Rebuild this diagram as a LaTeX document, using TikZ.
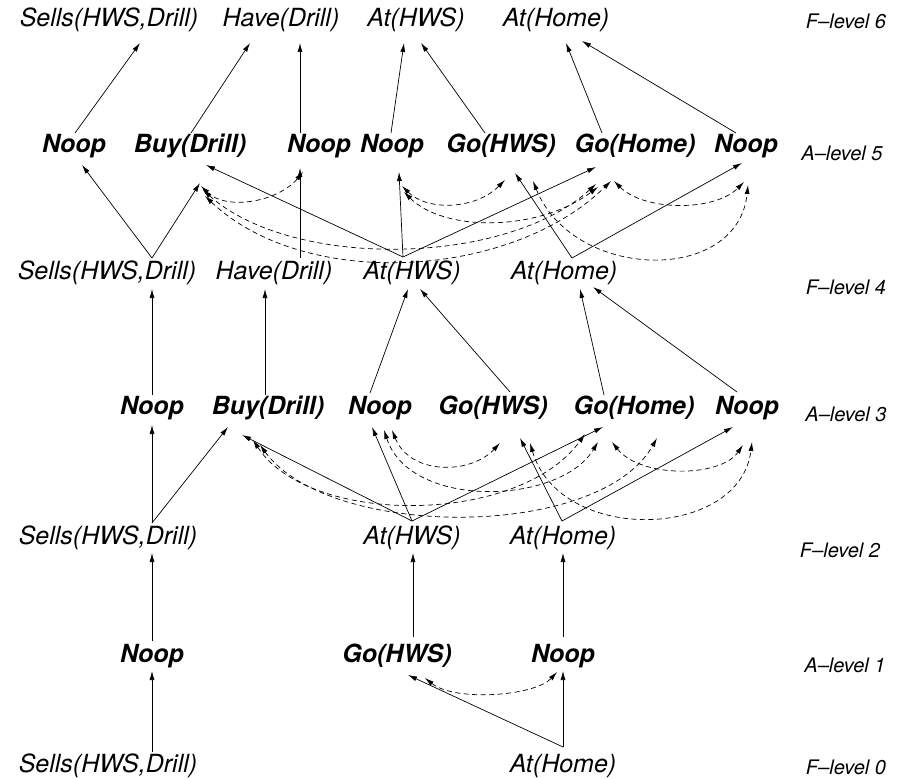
\documentclass[tikz,border=0pt]{standalone}
\usepackage{fontspec}
\setmainfont{TeX Gyre Heros}
\usetikzlibrary{arrows.meta}
\begin{document}
\begin{tikzpicture}[x=1bp,y=-1bp,
  fact/.style={font=\fontsize{25bp}{30bp}\selectfont\itshape, inner sep=0pt,
    text height=18bp, text depth=5.5bp},
  act/.style={font=\fontsize{25bp}{30bp}\selectfont\bfseries\itshape, inner sep=0pt,
    text height=18bp, text depth=5.5bp},
  lvl/.style={font=\fontsize{20bp}{24bp}\selectfont\itshape, inner sep=0pt},
  link/.style={line width=0.7bp, -{Latex[length=9bp,width=5bp]}},
  mutex/.style={line width=0.7bp, dash pattern=on 5bp off 3.5bp,
    {Latex[length=9bp,width=5bp]}-{Latex[length=9bp,width=5bp]}},
]
\useasboundingbox (0,0) rectangle (904,779);

% ---------- fact level 6 ----------
\node[fact] (f6s) at (109,20) {Sells(HWS,Drill)};
\node[fact] (f6h) at (281,20) {Have(Drill)};
\node[fact] (f6a) at (416,20) {At(HWS)};
\node[fact] (f6m) at (556,20) {At(Home)};
% ---------- action level 5 ----------
\node[act] (a5n1)  at (74,146)  {Noop};
\node[act] (a5buy) at (190,146) {Buy(Drill)};
\node[act] (a5nh)  at (319,146) {Noop};
\node[act] (a5na)  at (392,146) {Noop};
\node[act] (a5gh)  at (501,146) {Go(HWS)};
\node[act] (a5gm)  at (635,146) {Go(Home)};
\node[act] (a5nm)  at (746,146) {Noop};
% ---------- fact level 4 ----------
\node[fact] (f4s) at (107,273) {Sells(HWS,Drill)};
\node[fact] (f4h) at (274,273) {Have(Drill)};
\node[fact] (f4a) at (412,273) {At(HWS)};
\node[fact] (f4m) at (564,273) {At(Home)};
% ---------- action level 3 ----------
\node[act] (a3n1)  at (152,408) {Noop};
\node[act] (a3buy) at (268,408) {Buy(Drill)};
\node[act] (a3na)  at (380,408) {Noop};
\node[act] (a3gh)  at (493,408) {Go(HWS)};
\node[act] (a3gm)  at (634,408) {Go(Home)};
\node[act] (a3nm)  at (747,408) {Noop};
% ---------- fact level 2 ----------
\node[fact] (f2s) at (108,538) {Sells(HWS,Drill)};
\node[fact] (f2a) at (412,538) {At(HWS)};
\node[fact] (f2m) at (563,538) {At(Home)};
% ---------- action level 1 ----------
\node[act] (a1n1) at (152,656) {Noop};
\node[act] (a1gh) at (397,656) {Go(HWS)};
\node[act] (a1nm) at (563,656) {Noop};
% ---------- fact level 0 ----------
\node[fact] (f0s) at (108,766) {Sells(HWS,Drill)};
\node[fact] (f0m) at (563,766) {At(Home)};

% ---------- level captions ----------
\node[lvl] (lF6) at (846,21)  {F–level 6};
\node[lvl] (lA5) at (842,153) {A–level 5};
\node[lvl] (lF4) at (846,287) {F–level 4};
\node[lvl] (lA3) at (846,414) {A–level 3};
\node[lvl] (lF2) at (840,550) {F–level 2};
\node[lvl] (lA1) at (845,665) {A–level 1};
\node[lvl] (lF0) at (846,767) {F–level 0};

% ---------- A5 -> F6 ----------
\draw[link] ([shift={(1,-13)}]a5n1.center)   -- ([shift={(31,23)}]f6s.center);
\draw[link] ([shift={(1,-13)}]a5buy.center)  -- ([shift={(-31,23)}]f6h.center);
\draw[link] ([shift={(-19,-13)}]a5nh.center) -- ([shift={(19,23)}]f6h.center);
\draw[link] ([shift={(-1,-13)}]a5na.center)  -- ([shift={(-12,23)}]f6a.center);
\draw[link] ([shift={(-16,-13)}]a5gh.center) -- ([shift={(5,23)}]f6a.center);
\draw[link] ([shift={(-33,-13)}]a5gm.center) -- ([shift={(10,23)}]f6m.center);
\draw[link] ([shift={(-10,-13)}]a5nm.center) -- ([shift={(26,21)}]f6m.center);

% ---------- F4 -> A5 ----------
\draw[link] ([shift={(45,-15)}]f4s.center) -- ([shift={(8,19)}]a5n1.center);
\draw[link] ([shift={(45,-15)}]f4s.center) -- ([shift={(10,37)}]a5buy.center);
\draw[link] ([shift={(26,-15)}]f4h.center) -- ([shift={(-19,22)}]a5nh.center);
\draw[link] ([shift={(-9,-16)}]f4a.center) -- ([shift={(16,19)}]a5buy.center);
\draw[link] ([shift={(-9,-16)}]f4a.center) -- ([shift={(7,26)}]a5na.center);
\draw[link] ([shift={(-9,-16)}]f4a.center) -- ([shift={(-39,21)}]a5gm.center);
\draw[link] ([shift={(8,-15)}]f4m.center)  -- ([shift={(14,27)}]a5gh.center);
\draw[link] ([shift={(8,-15)}]f4m.center)  -- ([shift={(-4,17)}]a5nm.center);

% ---------- mutex links at A5 ----------
\draw[mutex] ([shift={(11,40)}]a5buy.center) .. controls +(25,25) and +(-25,30) .. ([shift={(-16,26)}]a5nh.center);
\draw[mutex] ([shift={(13,44)}]a5buy.center) .. controls +(90,80) and +(-90,82) .. ([shift={(-39,38)}]a5gm.center);
\draw[mutex] ([shift={(15,50)}]a5buy.center) .. controls +(100,95) and +(-100,98) .. ([shift={(-24,35)}]a5gm.center);
\draw[mutex] ([shift={(10,40)}]a5na.center) .. controls +(25,25) and +(-30,30) .. ([shift={(4,34)}]a5gh.center);
\draw[mutex] ([shift={(12,46)}]a5na.center) .. controls +(40,40) and +(-60,45) .. ([shift={(-37,41)}]a5gm.center);
\draw[mutex] ([shift={(32,35)}]a5gh.center) .. controls +(40,100) and +(-10,100) .. ([shift={(2,39)}]a5nm.center);
\draw[mutex] ([shift={(-21,35)}]a5gm.center) .. controls +(30,30) and +(-30,30) .. ([shift={(-2,36)}]a5nm.center);

% ---------- A3 -> F4 ----------
\draw[link] ([shift={(0,-13)}]a3n1.center)   -- ([shift={(45,16)}]f4s.center);
\draw[link] ([shift={(-3,-13)}]a3buy.center) -- ([shift={(-9,16)}]f4h.center);
\draw[link] ([shift={(-10,-15)}]a3na.center) -- ([shift={(-4,16)}]f4a.center);
\draw[link] ([shift={(17,-16)}]a3gh.center)  -- ([shift={(8,16)}]f4a.center);
\draw[link] ([shift={(-30,-13)}]a3gm.center) -- ([shift={(16,16)}]f4m.center);
\draw[link] ([shift={(-10,-16)}]a3nm.center) -- ([shift={(29,14)}]f4m.center);

% ---------- F2 -> A3 ----------
\draw[link] ([shift={(44,-15)}]f2s.center) -- ([shift={(0,17)}]a3n1.center);
\draw[link] ([shift={(44,-15)}]f2s.center) -- ([shift={(-40,19)}]a3buy.center);
\draw[link] ([shift={(0,-17)}]f2a.center)  -- ([shift={(-8,19)}]a3na.center);
\draw[link] ([shift={(0,-17)}]f2a.center)  -- ([shift={(-26,27)}]a3buy.center);
\draw[link] ([shift={(0,-17)}]f2a.center)  -- ([shift={(-31,19)}]a3gm.center);
\draw[link] ([shift={(-1,-17)}]f2m.center) -- ([shift={(27,30)}]a3gh.center);
\draw[link] ([shift={(-1,-17)}]f2m.center) -- ([shift={(-14,19)}]a3nm.center);

% ---------- mutex links at A3 ----------
\draw[mutex] ([shift={(-15,32)}]a3buy.center) .. controls +(57,87) and +(-65,91) .. ([shift={(-49,26)}]a3gm.center);
\draw[mutex] ([shift={(-8,37)}]a3buy.center) .. controls +(70,95) and +(-57,102) .. ([shift={(23,30)}]a3gm.center);
\draw[mutex] ([shift={(12,22)}]a3na.center) .. controls +(18,45) and +(-30,32) .. ([shift={(7,35)}]a3gh.center);
\draw[mutex] ([shift={(4,22)}]a3na.center) .. controls +(26,80) and +(-38,63) .. ([shift={(-36,34)}]a3gm.center);
\draw[mutex] ([shift={(37,35)}]a3gh.center) .. controls +(30,102) and +(-12,98) .. ([shift={(5,34)}]a3nm.center);
\draw[mutex] ([shift={(-22,34)}]a3gm.center) .. controls +(28,36) and +(-23,33) .. ([shift={(-4,37)}]a3nm.center);

% ---------- A1 -> F2 ----------
\draw[link] ([shift={(0,-15)}]a1n1.center) -- ([shift={(44,15)}]f2s.center);
\draw[link] ([shift={(16,-19)}]a1gh.center) -- ([shift={(1,15)}]f2a.center);
\draw[link] ([shift={(0,-19)}]a1nm.center) -- ([shift={(0,15)}]f2m.center);

% ---------- F0 -> A1 ----------
\draw[link] ([shift={(44,-14)}]f0s.center) -- ([shift={(0,15)}]a1n1.center);
\draw[link] ([shift={(0,-19)}]f0m.center)  -- ([shift={(0,15)}]a1nm.center);
\draw[link] ([shift={(0,-19)}]f0m.center)  -- ([shift={(11,19)}]a1gh.center);

% ---------- mutex link at A1 ----------
\draw[mutex] ([shift={(28,22)}]a1gh.center) .. controls +(30,24) and +(-22,24) .. ([shift={(-6,16)}]a1nm.center);
\end{tikzpicture}
\end{document}
